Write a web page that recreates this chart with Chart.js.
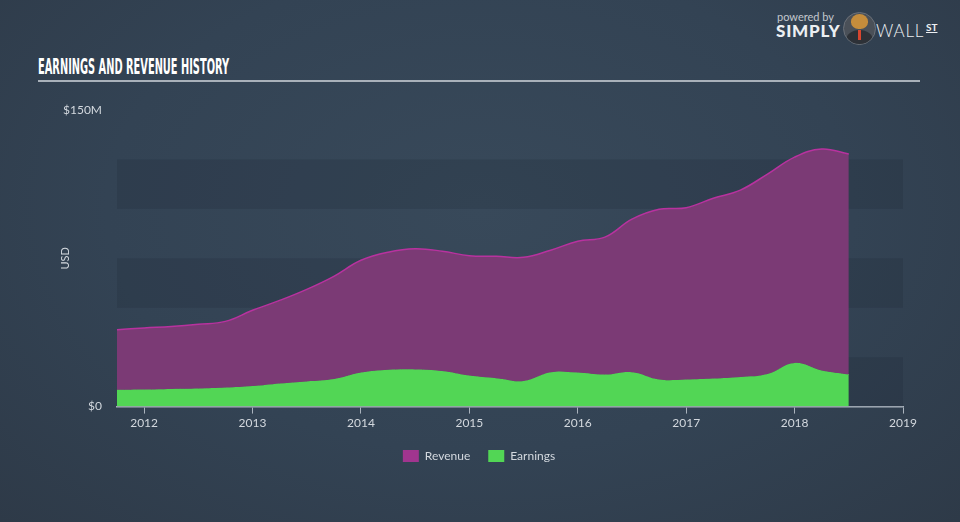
<!DOCTYPE html>
<html>
<head>
<meta charset="utf-8">
<script src="https://cdn.jsdelivr.net/npm/chart.js@4.4.0/dist/chart.umd.min.js"></script>
<style>
    html, body { margin: 0; padding: 0; }
    body {
        width: 960px; height: 522px; overflow: hidden; position: relative;
        background: radial-gradient(ellipse at 50% 40%, #38495a 0%, #334354 55%, #2e3a48 100%);
        font-family: Lato, sans-serif;
    }
    #wrap { position: absolute; left: 0; top: 0; width: 960px; height: 522px; }
    #title {
        position: absolute; left: 38px; top: 55px; white-space: nowrap;
        font-family: "Liberation Sans Narrow", "DejaVu Sans Condensed", sans-serif;
        font-weight: bold; font-size: 21px; color: #ffffff; transform-origin: left top;
    }
    #rule { position: absolute; left: 38px; top: 80px; width: 882px; height: 2px; background: #a9b1ba; }
    .logo { position: absolute; color: #eceff2; white-space: nowrap; }
    #powered { left: 777px; top: 10px; font-size: 11px; color: #c3c8ce; }
    #simply { left: 776px; top: 20px; font-size: 17px; font-weight: 900; letter-spacing: 0.8px; }
    #wall { left: 876px; top: 20px; font-size: 17px; font-weight: 300; letter-spacing: 0.8px; }
    #st { left: 926px; top: 21px; font-size: 10px; font-weight: bold; text-decoration: underline; }
    #bull { position: absolute; left: 843px; top: 12px; width: 31px; height: 31px; border-radius: 50%; background: #4a5058; border: 1px solid #6b7179; overflow: hidden; }
    #bull .head { position: absolute; left: 7px; top: 1px; width: 17px; height: 15px; border-radius: 50% 50% 45% 45%; background: #c58d3c; }
    #bull .suit { position: absolute; left: 2px; top: 17px; width: 27px; height: 20px; border-radius: 50% 50% 0 0; background: #2d3137; }
    #bull .tie { position: absolute; left: 14px; top: 17px; width: 3px; height: 10px; background: #d8462f; }
</style>
</head>
<body>
<div id="title">EARNINGS AND REVENUE HISTORY</div>
<div id="rule"></div>
<div class="logo" id="powered">powered by</div>
<div class="logo" id="simply">SIMPLY</div>
<div id="bull"><div class="suit"></div><div class="head"></div><div class="tie"></div></div>
<div class="logo" id="wall">WALL</div>
<div class="logo" id="st">ST</div>
<div id="wrap"><canvas id="chart"></canvas></div>
<script>
    // squeeze the title into the same width as the original
    const title = document.getElementById('title');
    title.style.transform = 'scaleX(' + (191 / title.offsetWidth) + ')';

    // quarterly points, as decimal years
    const quarters = [
        2011.75, 2012.0, 2012.25, 2012.5, 2012.75, 2013.0, 2013.25, 2013.5, 2013.75,
        2014.0, 2014.25, 2014.5, 2014.75, 2015.0, 2015.25, 2015.5, 2015.75,
        2016.0, 2016.25, 2016.5, 2016.75, 2017.0, 2017.25, 2017.5, 2017.75,
        2018.0, 2018.25, 2018.5
    ];
    // $M
    const revenue = [
        38.9, 39.8, 40.5, 41.6, 43.1, 48.7, 53.7, 59.3, 65.9,
        74.0, 78.1, 79.8, 78.6, 76.3, 76.0, 75.5, 79.1,
        83.6, 85.7, 94.8, 99.8, 100.6, 105.4, 109.5, 117.6,
        126.2, 130.3, 127.7
    ];
    const earnings = [
        8.5, 8.6, 8.9, 9.1, 9.6, 10.4, 11.7, 12.7, 13.9,
        17.2, 18.6, 18.8, 18.0, 15.7, 14.4, 13.0, 17.4,
        17.2, 16.2, 17.4, 13.7, 13.7, 14.2, 15.0, 16.5,
        22.1, 18.2, 16.2
    ];
    const years = [2012, 2013, 2014, 2015, 2016, 2017, 2018, 2019];
    const yTicks = [0, 150];
    const yTickLabels = ['$0', '$150M'];
    const seriesNames = ['Revenue', 'Earnings'];
    const legendColors = ['#a1358f', '#52d655'];

    const textColor = '#d3d8de';

    // darker horizontal bands behind the plot
    const bandsPlugin = {
        id: 'bands',
        beforeDatasetsDraw(chart) {
            const { ctx, chartArea, scales: { y } } = chart;
            ctx.save();
            ctx.fillStyle = 'rgba(20, 30, 40, 0.15)';
            [[0, 25], [50, 75], [100, 125]].forEach(([lo, hi]) => {
                const top = y.getPixelForValue(hi);
                const bottom = y.getPixelForValue(lo);
                ctx.fillRect(chartArea.left, top, chartArea.right - chartArea.left, bottom - top);
            });
            ctx.restore();
        }
    };

    const ctx = document.getElementById('chart').getContext('2d');
    new Chart(ctx, {
        type: 'line',
        data: {
            datasets: [{
                label: seriesNames[0],
                data: quarters.map((q, i) => ({ x: q, y: revenue[i] })),
                borderColor: '#b8329f',
                borderWidth: 1.5,
                backgroundColor: '#7b3a75',
                fill: '+1',
                tension: 0.4,
                pointRadius: 0
            }, {
                label: seriesNames[1],
                data: quarters.map((q, i) => ({ x: q, y: earnings[i] })),
                borderColor: '#52d655',
                borderWidth: 1,
                backgroundColor: '#52d655',
                fill: 'origin',
                tension: 0.4,
                pointRadius: 0
            }]
        },
        options: {
            responsive: true,
            maintainAspectRatio: false,
            animation: false,
            layout: { padding: { left: 55, right: 57, top: 110, bottom: 50 } },
            plugins: {
                tooltip: { enabled: false },
                legend: {
                    position: 'bottom',
                    labels: {
                        color: textColor,
                        font: { family: 'Lato', size: 12 },
                        boxWidth: 16,
                        boxHeight: 12,
                        padding: 18,
                        generateLabels(chart) {
                            const items = Chart.defaults.plugins.legend.labels.generateLabels(chart);
                            items.forEach(it => {
                                it.fillStyle = legendColors[it.datasetIndex];
                                it.strokeStyle = legendColors[it.datasetIndex];
                                it.lineWidth = 0;
                            });
                            return items;
                        }
                    }
                }
            },
            scales: {
                x: {
                    type: 'linear',
                    min: 2011.75,
                    max: 2019,
                    afterBuildTicks(scale) { scale.ticks = years.map(v => ({ value: v })); },
                    ticks: {
                        color: textColor,
                        font: { family: 'Lato', size: 12 },
                        padding: 2,
                        callback: v => String(v)
                    },
                    grid: { display: true, drawOnChartArea: false, drawTicks: true, tickLength: 7, color: '#aab3bd' },
                    border: { display: true, color: '#aab3bd', width: 1.5 }
                },
                y: {
                    min: 0,
                    max: 150,
                    afterBuildTicks(scale) { scale.ticks = yTicks.map(v => ({ value: v })); },
                    afterFit(scale) { scale.width = 62; },
                    ticks: {
                        color: textColor,
                        font: { family: 'Lato', size: 12 },
                        padding: 15,
                        callback: (v, i) => yTickLabels[i]
                    },
                    grid: { display: false, drawTicks: false },
                    border: { display: false },
                    title: { display: true, text: 'USD', color: textColor, font: { family: 'Lato', size: 11 }, padding: 4 }
                }
            }
        },
        plugins: [bandsPlugin]
    });
</script>
</body>
</html>
